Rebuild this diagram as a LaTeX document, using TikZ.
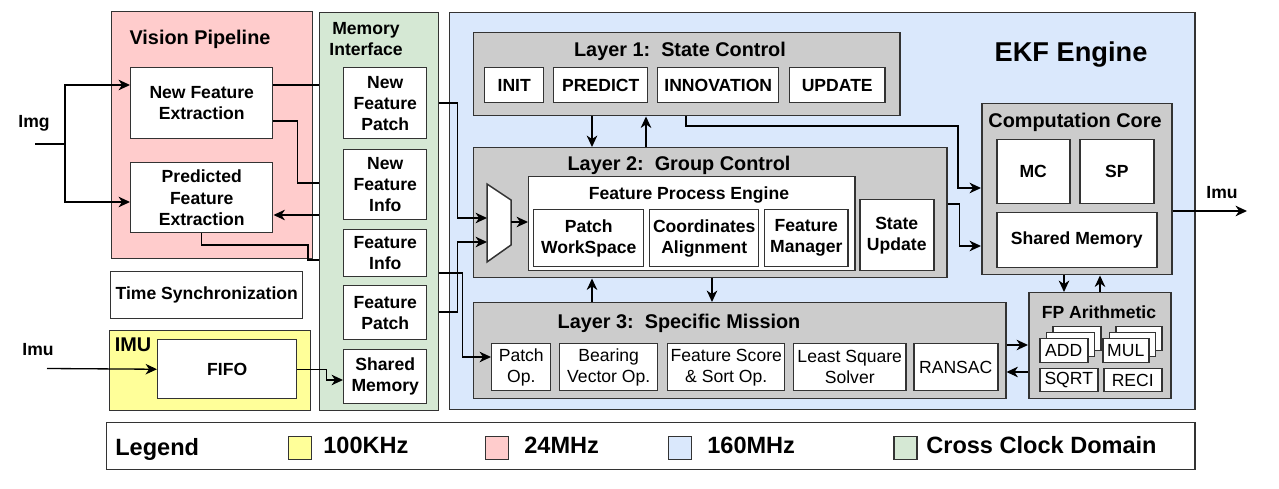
\documentclass[tikz,border=0pt]{standalone}
\usepackage{fontspec}
\setmainfont{Liberation Sans}
\usepackage{tikz}
\usetikzlibrary{arrows.meta,positioning}

\definecolor{vpcol}{HTML}{FFCCCC}
\definecolor{imucol}{HTML}{FFFF99}
\definecolor{ekfcol}{HTML}{DAE8FC}
\definecolor{memcol}{HTML}{D5E8D4}
\definecolor{laycol}{HTML}{CCCCCC}
\definecolor{edgecol}{HTML}{333333}

\begin{document}
\begin{tikzpicture}[x=0.02cm, y=-0.02cm,
	sz/.style 2 args={anchor=north west, minimum width=#1*0.02cm, minimum height=#2*0.02cm},
	region/.style={draw=edgecol, line width=0.85pt, inner sep=0pt},
	blk/.style={draw=edgecol, fill=white, line width=0.85pt, inner sep=1pt, align=center, font=\bfseries\fontsize{10}{12}\selectfont},
	opbox/.style={blk, font=\fontsize{10}{12}\selectfont},
	ttl/.style={font=\bfseries\fontsize{11.3}{13}\selectfont, inner sep=0pt},
	lbl/.style={font=\bfseries\fontsize{10}{12}\selectfont, inner sep=0pt, align=center},
	keybox/.style={region, sz={23}{23}},
	keytxt/.style={anchor=base west, inner sep=0pt, font=\bfseries\fontsize{13.4}{15}\selectfont},
	conn/.style={-{Stealth[length=6.5pt,width=6pt,inset=2pt]}, line width=0.75pt},
	wire/.style={line width=0.75pt}]
	\useasboundingbox (0,0) rectangle (1279,489);

	% vision pipeline and imu side
	\node[region, fill=vpcol, sz={201}{247}] (vp) at (111,11) {};
	\node[ttl] (vptitle) at (200,39.5) {Vision Pipeline};
	\node[blk, sz={142}{71}] (nfe) at (130,67) {New Feature\\Extraction};
	\node[blk, sz={142}{70}] (pfe) at (130,162) {Predicted\\Feature\\Extraction};
	\node[blk, sz={192}{47}] (tsync) at (110,271) {Time Synchronization};
	\node[region, fill=imucol, sz={201}{80}] (imu) at (109,330) {};
	\node[ttl] (imutitle) at (133,345) {IMU};
	\node[blk, sz={139}{59}] (fifo) at (157,339) {FIFO};

	% memory interface
	\node[region, fill=memcol, sz={119}{398}] (mem) at (319,12) {};
	\node[lbl] (memtitle) at (366,39.5) {Memory\\Interface};
	\node[blk, sz={83}{71}] (nfp) at (343,67) {New\\Feature\\Patch};
	\node[blk, sz={83}{70}] (nfi) at (343,149) {New\\Feature\\Info};
	\node[blk, sz={83}{47}] (fi) at (343,229) {Feature\\Info};
	\node[blk, sz={83}{54}] (fp) at (343,285) {Feature\\Patch};
	\node[blk, sz={83}{54}] (shm) at (343,349) {Shared\\Memory};

	% ekf engine
	\node[region, fill=ekfcol, sz={745}{397}] (ekf) at (449,12) {};
	\node[font=\bfseries\fontsize{15.5}{18}\selectfont, inner sep=0pt] (ekftitle) at (1071,55) {EKF Engine};

	\node[region, fill=laycol, sz={426}{83}] (l1) at (473,32) {};
	\node[ttl] (l1title) at (680,51) {Layer 1:\ \ State Control};
	\node[blk, sz={59}{35}] (init) at (484,67) {INIT};
	\node[blk, sz={94}{35}] (predict) at (553,67) {PREDICT};
	\node[blk, sz={121}{35}] (innov) at (657,67) {INNOVATION};
	\node[blk, sz={95}{35}] (update) at (789,67) {UPDATE};

	\node[region, fill=laycol, sz={473}{130}] (l2) at (473,147) {};
	\node[ttl] (l2title) at (679,165) {Layer 2:\ \ Group Control};
	\draw[fill=white, draw=edgecol, line width=0.85pt] (487,184) -- (511,200) -- (511,245) -- (487,262) -- cycle;
	\coordinate (muxa) at (487,218);
	\coordinate (muxb) at (487,242);
	\coordinate (muxo) at (511,222);
	\node[blk, sz={326}{94}] (fpe) at (528,176) {};
	\node[lbl] (fpetitle) at (689,195) {Feature Process Engine};
	\node[blk, sz={110}{57}] (pws) at (533,209) {Patch\\WorkSpace};
	\node[blk, sz={109}{57}] (coa) at (649,209) {Coordinates\\Alignment};
	\node[blk, sz={83}{57}] (fm) at (764,209) {Feature\\Manager};
	\node[blk, sz={74}{71}] (su) at (859,199) {State\\Update};

	\node[region, fill=laycol, sz={532}{96}] (l3) at (473,302) {};
	\node[ttl] (l3title) at (679,323.5) {Layer 3:\ \ Specific Mission};
	\node[opbox, sz={59}{47}] (pop) at (491,343) {Patch\\Op.};
	\node[opbox, sz={98}{47}] (bvo) at (559,343) {Bearing\\Vector Op.};
	\node[opbox, sz={117}{47}] (fss) at (667,343) {Feature Score\\\& Sort Op.};
	\node[opbox, sz={112}{47}] (lss) at (793,343) {Least Square\\Solver};
	\node[opbox, sz={84}{47}] (ransac) at (913,343) {RANSAC};

	\node[region, fill=laycol, sz={190}{171}] (cc) at (981,103) {};
	\node[ttl] (cctitle) at (1075,122) {Computation Core};
	\node[blk, sz={73}{64}] (mc) at (996,139) {MC};
	\node[blk, sz={74}{64}] (sp) at (1079,139) {SP};
	\node[blk, sz={160}{55}] (csm) at (996,212) {Shared Memory};

	\node[region, fill=laycol, sz={142}{106}] (fpa) at (1028,292) {};
	\node[lbl] (fpatitle) at (1099,312.5) {FP Arithmetic};
	\node[opbox, sz={48}{24}] (addc) at (1052,326) {};
	\node[opbox, sz={48}{24}] (addb) at (1045.5,332) {};
	\node[opbox, sz={48}{24}] (add) at (1039,338) {ADD};
	\node[opbox, sz={46}{24}] (mulc) at (1115,326) {};
	\node[opbox, sz={46}{24}] (mulb) at (1108.5,332) {};
	\node[opbox, sz={46}{24}] (mul) at (1102,338) {MUL};
	\node[opbox, sz={58}{23}] (sqrt) at (1039,368) {SQRT};
	\node[opbox, sz={58}{23}] (reci) at (1103,368) {RECI};

	% inputs / outputs
	\node[lbl] (imgtxt) at (34,123.5) {Img};
	\coordinate (imgin) at (35,144);
	\coordinate (imgsplit) at (65,144);
	\node[lbl] (imuintxt) at (38,350) {Imu};
	\coordinate (imuin) at (47,368.5);
	\node[lbl] (imuouttxt) at (1222,193) {Imu};
	\coordinate (imuout) at (1247,211);

	% connectors
	\draw[wire] (imgin) -- (imgsplit);
	\draw[conn] (imgsplit) |- (nfe.west |- 0,85);
	\draw[conn] (imgsplit) |- (pfe.west |- 0,202);
	\draw[wire] (nfe.east |- 0,85) -- (mem.west |- 0,85);
	\draw[wire] (nfe.east |- 0,121) -- ++(24,0) |- (mem.west |- 0,183);
	\draw[conn] (mem.west |- 0,215) -- (pfe.east |- 0,215);
	\draw[wire] (pfe.south) |- (308,245) |- (mem.west |- 0,260);
	\draw[conn] (imuin) -- (fifo.west);
	\draw[conn] (fifo.east) -- ++(29,0) |- (shm.west |- 0,380);

	\draw[conn] (mem.east |- 0,103) -- ++(18,0) |- (muxa);
	\draw[conn] (mem.east |- 0,312) -- ++(18,0) |- (muxb);
	\draw[conn] (mem.east |- 0,273) -- ++(23,0) |- (pop.west |- 0,357);
	\draw[conn] (muxo) -- (fpe.west |- muxo);

	\draw[conn] (l1.south -| 592,0) -- (l2.north -| 592,0);
	\draw[conn] (l2.north -| 646,0) -- (l1.south -| 646,0);
	\draw[conn] (l3.north -| 592,0) -- (l2.south -| 592,0);
	\draw[conn] (l2.south -| 712,0) -- (l3.north -| 712,0);
	\draw[conn] (l1.south -| 686,0) |- (958,126) |- (cc.west |- 0,188);
	\draw[conn] (l2.east |- 0,204) -- ++(12,0) |- (cc.west |- 0,246);
	\draw[conn] (cc.east |- imuout) -- (imuout);
	\draw[conn] (cc.south -| 1064,0) -- (fpa.north -| 1064,0);
	\draw[conn] (fpa.north -| 1100,0) -- (cc.south -| 1100,0);
	\draw[conn] (l3.east |- 0,345) -- (fpa.west |- 0,345);
	\draw[conn] (fpa.west |- 0,372) -- (l3.east |- 0,372);

	% legend
	\node[region, fill=white, sz={1088}{47}] (legend) at (106,422) {};
	\node[keytxt] (legtxt) at (115,456) {Legend};
	\node[keybox, fill=imucol] (kyel) at (288,436) {};
	\node[keytxt] (kyeltxt) at (323,454) {100KHz};
	\node[keybox, fill=vpcol] (kpink) at (485,436) {};
	\node[keytxt] (kpinktxt) at (524,454) {24MHz};
	\node[keybox, fill=ekfcol] (kblue) at (668,436) {};
	\node[keytxt] (kbluetxt) at (707,454) {160MHz};
	\node[keybox, fill=memcol] (kgreen) at (893,436) {};
	\node[keytxt] (kgreentxt) at (926,454) {Cross Clock Domain};
\end{tikzpicture}
\end{document}
